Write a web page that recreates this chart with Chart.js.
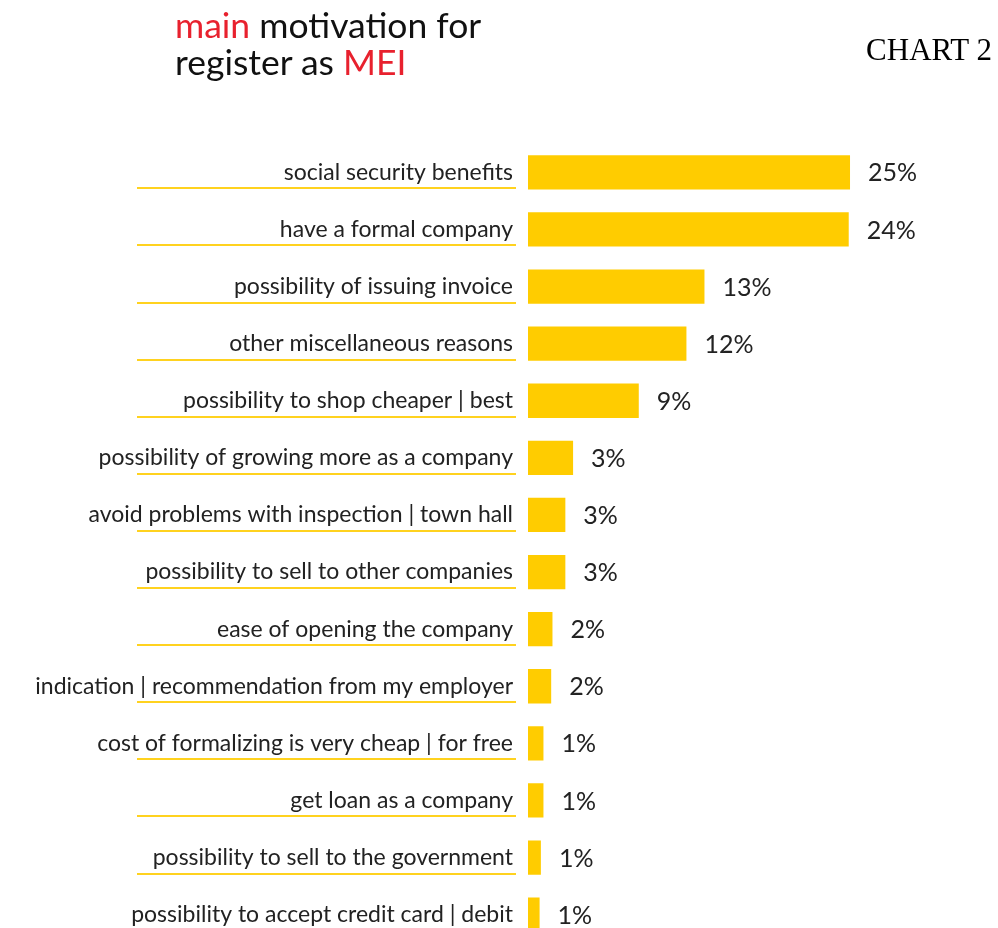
<!DOCTYPE html>
<html><head><meta charset="utf-8">
<script src="https://cdn.jsdelivr.net/npm/chart.js@4.4.0/dist/chart.umd.min.js"></script>
<style>
html,body{margin:0;padding:0;background:#fff;overflow:hidden;width:998px;height:928px;}
#wrap{position:absolute;left:0;top:0;width:998px;height:972px;}
#title{position:absolute;left:175px;top:6px;font-family:Lato;font-size:35.5px;line-height:37px;color:#111;white-space:nowrap;}
#title .r{color:#e8212e}
#chartno{position:absolute;right:6px;top:32px;font-family:"Liberation Serif";font-size:31px;line-height:normal;color:#000;}
</style></head>
<body>
<div id="wrap"><canvas id="c" width="998" height="972"></canvas></div>
<div id="title"><span class="r">main</span> motivation for<br>register as <span class="r">MEI</span></div>
<div id="chartno">CHART 2</div>
<script>
const categories = [
  'social security benefits',
  'have a formal company',
  'possibility of issuing invoice',
  'other miscellaneous reasons',
  'possibility to shop cheaper | best',
  'possibility of growing more as a company',
  'avoid problems with inspection | town hall',
  'possibility to sell to other companies',
  'ease of opening the company',
  'indication | recommendation from my employer',
  'cost of formalizing is very cheap | for free',
  'get loan as a company',
  'possibility to sell to the government',
  'possibility to accept credit card | debit'
];
const values = [25, 24.9, 13.7, 12.3, 8.6, 3.5, 2.9, 2.9, 1.9, 1.8, 1.2, 1.2, 1.0, 0.9];
const valueLabels = ['25%','24%','13%','12%','9%','3%','3%','3%','2%','2%','1%','1%','1%','1%'];

const decor = {
  id: 'decor',
  beforeDatasetsDraw(chart) {
    const ctx = chart.ctx, y = chart.scales.y;
    ctx.save();
    ctx.strokeStyle = '#FFD21F';
    ctx.lineWidth = 2;
    categories.forEach((c, i) => {
      const py = Math.round(y.getPixelForValue(i) + 16);
      ctx.beginPath();
      ctx.moveTo(137, py);
      ctx.lineTo(516, py);
      ctx.stroke();
    });
    ctx.restore();
  },
  afterDatasetsDraw(chart) {
    const ctx = chart.ctx, meta = chart.getDatasetMeta(0);
    ctx.save();
    ctx.font = '25px Lato';
    ctx.fillStyle = '#222';
    ctx.textAlign = 'left';
    ctx.textBaseline = 'middle';
    meta.data.forEach((bar, i) => {
      ctx.fillText(valueLabels[i], bar.x + 18, bar.y + 1);
    });
    ctx.restore();
  }
};

function draw() {
  new Chart(document.getElementById('c'), {
    type: 'bar',
    data: {
      labels: categories,
      datasets: [{
        data: values,
        backgroundColor: '#FFCC00',
        borderWidth: 0,
        barPercentage: 0.6,
        categoryPercentage: 1
      }]
    },
    options: {
      indexAxis: 'y',
      responsive: false,
      animation: false,
      layout: { padding: { left: 0, right: 70.7, top: 143.8, bottom: 0 } },
      plugins: { legend: { display: false }, tooltip: { enabled: false }, title: { display: false } },
      scales: {
        x: { display: false, min: 0, max: 31 },
        y: {
          afterFit(scale) { scale.width = 528; },
          grid: { display: false, drawTicks: false },
          border: { display: false },
          ticks: { padding: 15, color: '#222', font: { family: 'Lato', size: 23 } }
        }
      }
    },
    plugins: [decor]
  });
}
if (document.fonts && document.fonts.load) {
  Promise.all([document.fonts.load('23px Lato'), document.fonts.load('25px Lato'), document.fonts.load('35.5px Lato')]).then(draw, draw);
} else { draw(); }
</script>
</body></html>
